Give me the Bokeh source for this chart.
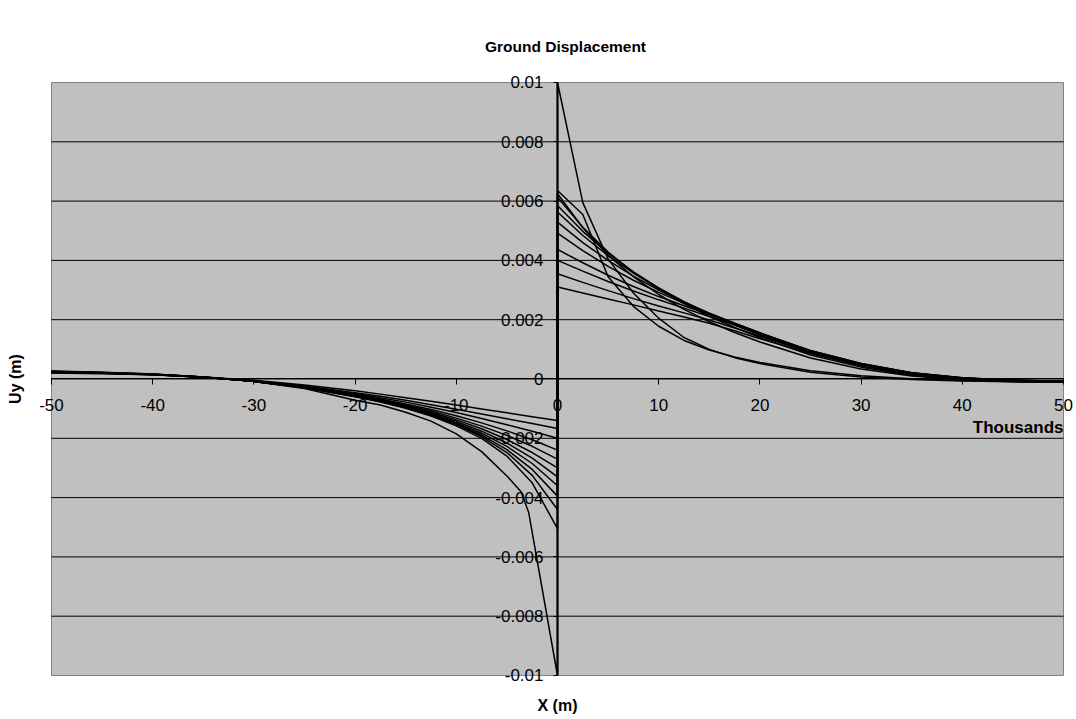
import math
from bokeh.plotting import figure
from bokeh.models import Label, FixedTicker
from bokeh.embed import file_html
from bokeh.resources import INLINE

# x positions (m)
X_LEFT = [-50000, -45000, -40000, -35000, -30000, -25000, -20000, -17500, -15000, -12500, -10000, -7500, -5000, -2500, 0]
X_RIGHT = [0, 2500, 5000, 7500, 10000, 12500, 15000, 17500, 20000, 25000, 30000, 35000, 40000, 45000, 50000]
XV_LEFT = [-50000, -45000, -40000, -35000, -30000, -25000, -20000, -17500, -15000, -12500, -10000, -7500, -5000, -3600, -2850, 0]

# Uy (m), footwall side (x < 0)
S1_L = [0.00020, 0.00018, 0.00014, 0.00007, -0.00004, -0.00020, -0.00040, -0.00051, -0.00063, -0.00075, -0.00088, -0.00101, -0.00114, -0.00127, -0.00140]
S2_L = [0.00021, 0.00019, 0.00014, 0.00006, -0.00006, -0.00024, -0.00046, -0.00058, -0.00072, -0.00087, -0.00102, -0.00118, -0.00134, -0.00150, -0.00167]
S3_L = [0.00022, 0.00019, 0.00014, 0.00006, -0.00007, -0.00026, -0.00049, -0.00063, -0.00078, -0.00095, -0.00113, -0.00133, -0.00154, -0.00176, -0.00200]
S4_L = [0.00023, 0.00020, 0.00015, 0.00006, -0.00008, -0.00027, -0.00052, -0.00067, -0.00084, -0.00103, -0.00124, -0.00148, -0.00175, -0.00205, -0.00240]
S5_L = [0.00023, 0.00020, 0.00015, 0.00006, -0.00008, -0.00028, -0.00054, -0.00070, -0.00088, -0.00108, -0.00132, -0.00159, -0.00190, -0.00227, -0.00270]
S6_L = [0.00024, 0.00020, 0.00015, 0.00006, -0.00008, -0.00028, -0.00055, -0.00071, -0.00090, -0.00112, -0.00138, -0.00168, -0.00204, -0.00248, -0.00300]
S7_L = [0.00024, 0.00021, 0.00016, 0.00006, -0.00008, -0.00028, -0.00056, -0.00072, -0.00092, -0.00115, -0.00143, -0.00176, -0.00216, -0.00267, -0.00330]
S8_L = [0.00025, 0.00021, 0.00016, 0.00007, -0.00008, -0.00029, -0.00057, -0.00074, -0.00094, -0.00118, -0.00147, -0.00183, -0.00227, -0.00285, -0.00360]
S9_L = [0.00025, 0.00022, 0.00016, 0.00007, -0.00008, -0.00029, -0.00058, -0.00075, -0.00095, -0.00120, -0.00151, -0.00189, -0.00238, -0.00305, -0.00395]
S10_L = [0.00026, 0.00022, 0.00017, 0.00007, -0.00008, -0.00029, -0.00059, -0.00076, -0.00097, -0.00122, -0.00154, -0.00194, -0.00248, -0.00325, -0.00440]
S11_L = [0.00027, 0.00023, 0.00017, 0.00007, -0.00008, -0.00030, -0.00060, -0.00078, -0.00099, -0.00125, -0.00158, -0.00200, -0.00260, -0.00350, -0.00505]
V_L = [0.00022, 0.00020, 0.00015, 0.00006, -0.00008, -0.00032, -0.00072, -0.00088, -0.00112, -0.00142, -0.00185, -0.00245, -0.00327, -0.00380, -0.00450, -0.01000]

# Uy (m), hanging-wall side (x > 0)
S1_R = [0.00310, 0.00290, 0.00270, 0.00250, 0.00229, 0.00209, 0.00188, 0.00163, 0.00136, 0.00086, 0.00046, 0.00018, 0.00002, -0.00005, -0.00008]
S2_R = [0.00355, 0.00326, 0.00298, 0.00271, 0.00246, 0.00223, 0.00199, 0.00172, 0.00144, 0.00091, 0.00050, 0.00020, 0.00003, -0.00004, -0.00008]
S3_R = [0.00400, 0.00364, 0.00329, 0.00297, 0.00267, 0.00239, 0.00211, 0.00182, 0.00152, 0.00095, 0.00052, 0.00021, 0.00004, -0.00004, -0.00008]
S4_R = [0.00437, 0.00392, 0.00350, 0.00312, 0.00278, 0.00247, 0.00217, 0.00186, 0.00155, 0.00096, 0.00052, 0.00021, 0.00004, -0.00004, -0.00008]
S5_R = [0.00492, 0.00433, 0.00380, 0.00333, 0.00292, 0.00255, 0.00221, 0.00188, 0.00156, 0.00095, 0.00051, 0.00020, 0.00003, -0.00005, -0.00009]
S6_R = [0.00529, 0.00460, 0.00400, 0.00347, 0.00300, 0.00259, 0.00222, 0.00188, 0.00155, 0.00093, 0.00049, 0.00019, 0.00002, -0.00005, -0.00009]
S7_R = [0.00563, 0.00484, 0.00416, 0.00357, 0.00306, 0.00261, 0.00221, 0.00186, 0.00152, 0.00090, 0.00047, 0.00017, 0.00001, -0.00006, -0.00010]
S8_R = [0.00585, 0.00498, 0.00424, 0.00361, 0.00307, 0.00260, 0.00218, 0.00182, 0.00148, 0.00087, 0.00044, 0.00015, 0.00000, -0.00007, -0.00010]
S9_R = [0.00613, 0.00512, 0.00428, 0.00360, 0.00303, 0.00254, 0.00211, 0.00174, 0.00140, 0.00081, 0.00040, 0.00013, -0.00001, -0.00008, -0.00011]
S10_R = [0.00625, 0.00510, 0.00417, 0.00345, 0.00285, 0.00235, 0.00193, 0.00157, 0.00125, 0.00071, 0.00034, 0.00010, -0.00003, -0.00009, -0.00011]
S11_R = [0.00636, 0.00555, 0.00345, 0.00245, 0.00178, 0.00130, 0.00098, 0.00074, 0.00056, 0.00028, 0.00011, 0.00001, -0.00005, -0.00008, -0.00010]
V_R = [0.01000, 0.00595, 0.00405, 0.00290, 0.00205, 0.00140, 0.00100, 0.00072, 0.00052, 0.00023, 0.00007, -0.00002, -0.00007, -0.00009, -0.00010]

Y_TICKS = [-0.01, -0.008, -0.006, -0.004, -0.002, 0.0, 0.002, 0.004, 0.006, 0.008, 0.01]
Y_LABELS = ["-0.01", "-0.008", "-0.006", "-0.004", "-0.002", "0", "0.002", "0.004", "0.006", "0.008", "0.01"]
X_TICKS = [-50000, -40000, -30000, -20000, -10000, 0, 10000, 20000, 30000, 40000, 50000]
X_LABELS = ["-50", "-40", "-30", "-20", "-10", "0", "10", "20", "30", "40", "50"]

FONT = "Liberation Sans"
X_MIN, X_MAX = X_TICKS[0], X_TICKS[-1]
Y_MIN, Y_MAX = Y_TICKS[0], Y_TICKS[-1]

# The frame covers the whole canvas; the grey plot area is drawn inside it so that
# tick labels at the plot edges are not clipped.
p = figure(width=1076, height=719, x_range=(-55039.5, 51284.6), y_range=(-0.011484, 0.0127656),
           output_backend="svg", toolbar_location=None,
           min_border_left=0, min_border_right=0, min_border_top=0, min_border_bottom=0,
           background_fill_color="white", border_fill_color="white",
           outline_line_color=None)
p.grid.visible = False

p.quad(left=[X_MIN], right=[X_MAX], bottom=[Y_MIN], top=[Y_MAX],
       fill_color="#C0C0C0", line_color="#808080", line_width=1, level="image")

grid_y = Y_TICKS[1:-1]
p.segment(x0=[X_MIN] * len(grid_y), x1=[X_MAX] * len(grid_y), y0=grid_y, y1=grid_y,
          line_color="black", line_width=1, level="underlay")

series = [(X_LEFT, S1_L, S1_R), (X_LEFT, S2_L, S2_R), (X_LEFT, S3_L, S3_R), (X_LEFT, S4_L, S4_R),
          (X_LEFT, S5_L, S5_R), (X_LEFT, S6_L, S6_R), (X_LEFT, S7_L, S7_R), (X_LEFT, S8_L, S8_R),
          (X_LEFT, S9_L, S9_R), (X_LEFT, S10_L, S10_R), (X_LEFT, S11_L, S11_R), (XV_LEFT, V_L, V_R)]
for xl, yl, yr in series:
    p.line(xl + X_RIGHT, yl + yr, line_color="black", line_width=1.5)

xa = p.xaxis[0]
xa.fixed_location = 0
xa.bounds = (X_MIN, X_MAX)
xa.ticker = FixedTicker(ticks=X_TICKS)
xa.major_label_overrides = dict(zip(X_TICKS, X_LABELS))
xa.minor_tick_line_color = None
xa.major_tick_in = 0
xa.major_tick_out = 6
xa.major_label_standoff = 14
xa.axis_line_color = "black"
xa.axis_line_width = 1
xa.major_label_text_font = FONT
xa.major_label_text_font_size = "17px"
xa.major_label_text_color = "black"

ya = p.yaxis[0]
ya.fixed_location = 0
ya.bounds = (Y_MIN, Y_MAX)
ya.ticker = FixedTicker(ticks=Y_TICKS)
ya.major_label_overrides = dict(zip(Y_TICKS, Y_LABELS))
ya.minor_tick_line_color = None
ya.major_tick_in = 0
ya.major_tick_out = 4
ya.major_label_standoff = 10
ya.axis_line_color = "black"
ya.axis_line_width = 2
ya.major_label_text_font = FONT
ya.major_label_text_font_size = "17px"
ya.major_label_text_color = "black"

p.add_layout(Label(x=790.6, y=0.0112142, text="Ground Displacement", text_font=FONT,
                   text_font_size="15.5px", text_font_style="bold", text_align="center",
                   text_baseline="middle", text_color="black"))
p.add_layout(Label(x=0, y=-0.011012, text="X (m)", text_font=FONT, text_font_size="16px",
                   text_font_style="bold", text_align="center", text_baseline="middle",
                   text_color="black"))
p.add_layout(Label(x=-53557, y=0.0, text="Uy (m)", text_font=FONT, text_font_size="16px",
                   text_font_style="bold", text_align="center", text_baseline="middle",
                   angle=math.pi / 2, text_color="black"))
p.add_layout(Label(x=X_MAX, y=-0.00165, text="Thousands", text_font=FONT, text_font_size="17px",
                   text_font_style="bold", text_align="right", text_baseline="middle",
                   text_color="black"))

open("out.html", "w").write(file_html(p, INLINE))
